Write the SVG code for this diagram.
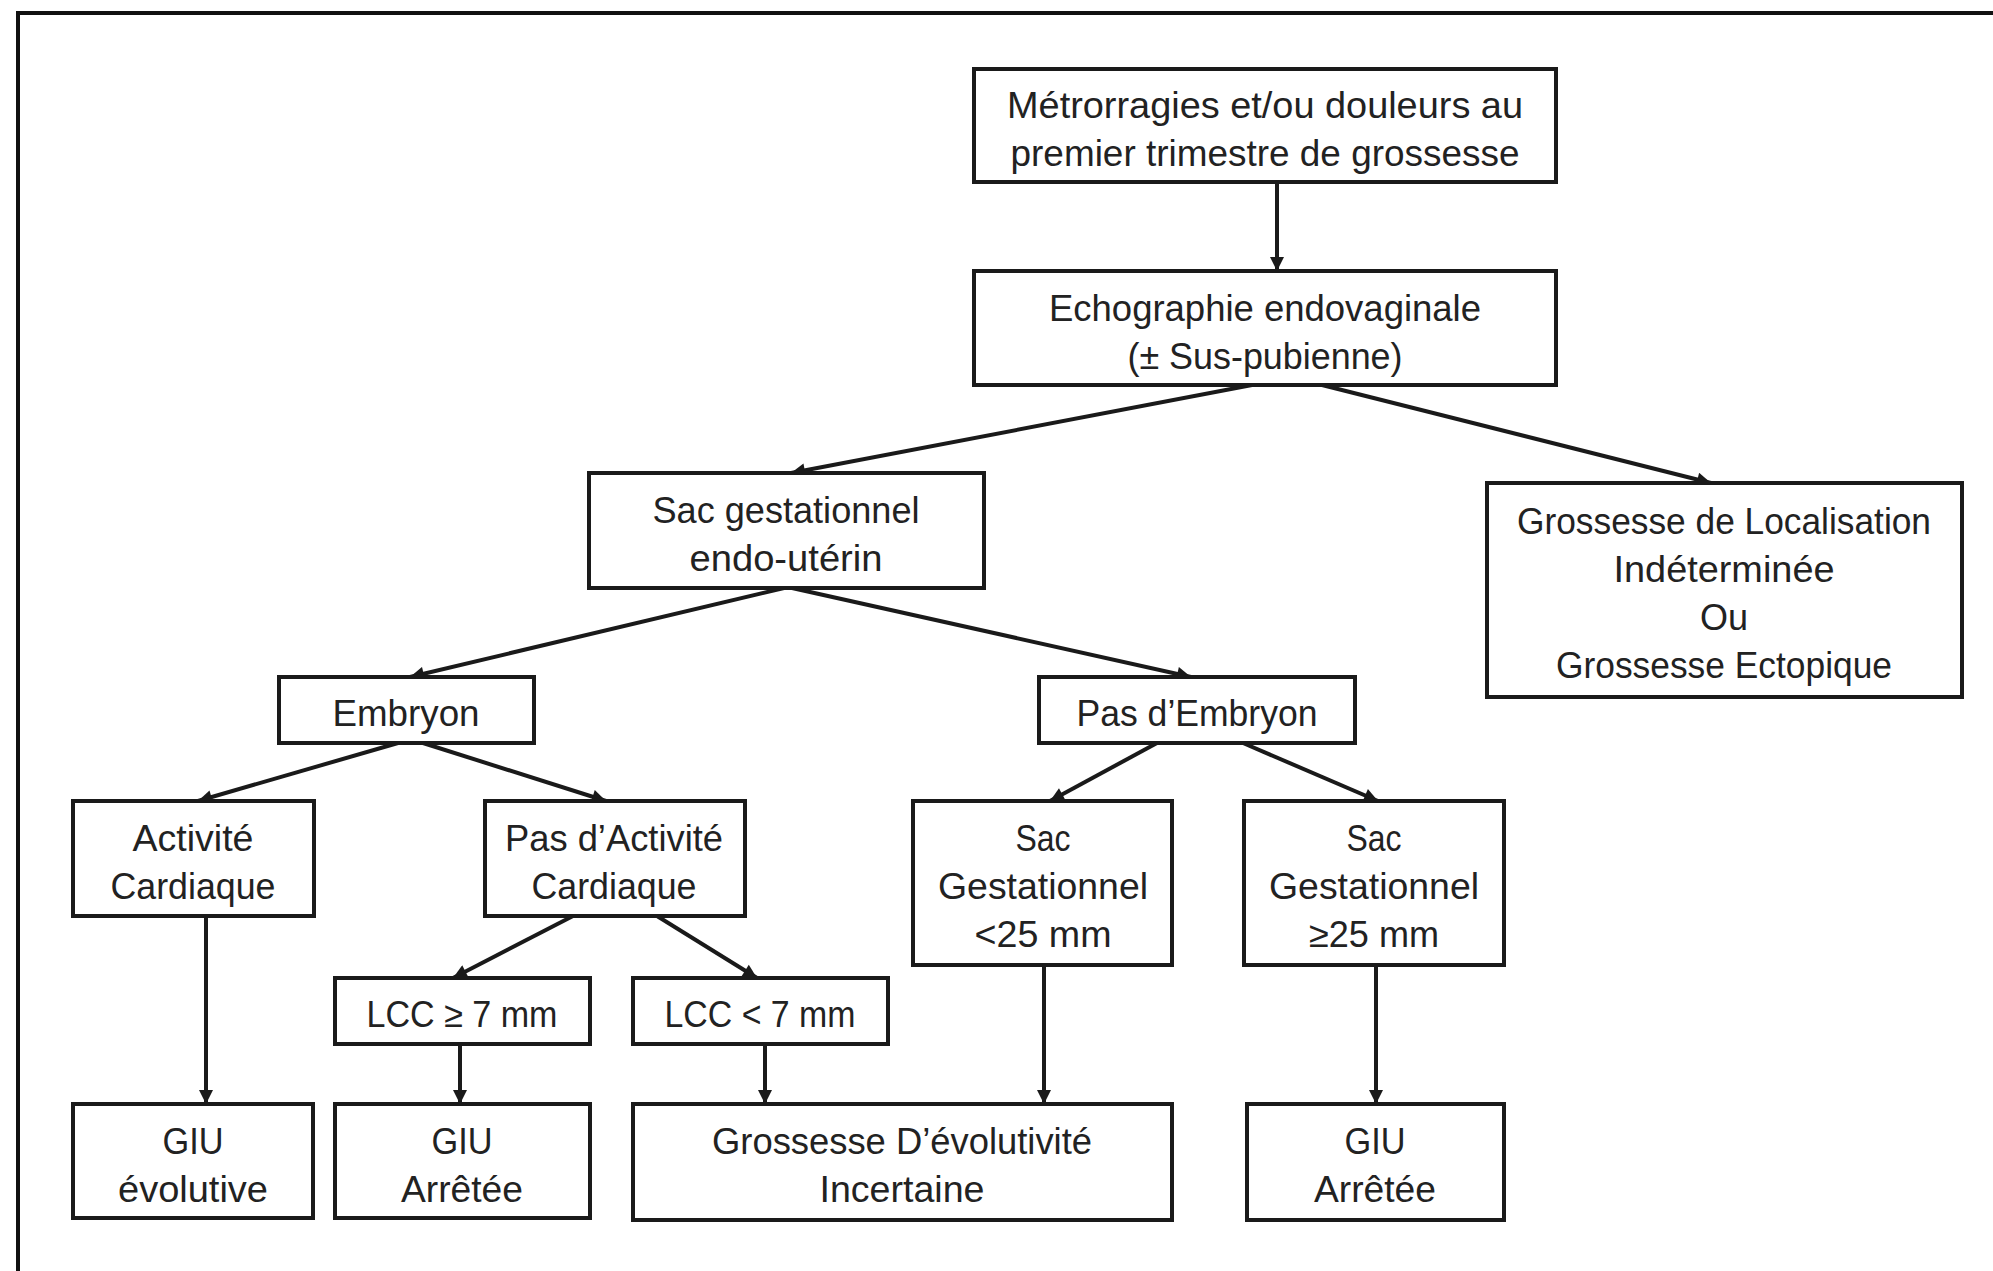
<svg xmlns="http://www.w3.org/2000/svg" width="1993" height="1271" viewBox="0 0 1993 1271">
<style>
.box{fill:#fff;stroke:#1a1a1a;stroke-width:4}
.t{font-family:"Liberation Sans",Arial,sans-serif;font-size:36px;fill:#222;text-anchor:middle}
.e{stroke:#1a1a1a;stroke-width:4;fill:none;marker-end:url(#ah)}
.frame{stroke:#111;stroke-width:4;fill:none}
</style>
<defs>
<marker id="ah" viewBox="0 0 10 10" refX="10" refY="5" markerUnits="userSpaceOnUse" markerWidth="16" markerHeight="14" orient="auto">
<path d="M0,0 L10,5 L0,10 z" fill="#1a1a1a"/>
</marker>
</defs>
<rect width="1993" height="1271" fill="#fff"/>
<path class="frame" d="M18,1271 L18,13 L1993,13"/>
<g id="connectors">
<line class="e" x1="1277" y1="182" x2="1277" y2="271"/>
<line class="e" x1="1252" y1="385" x2="791" y2="473"/>
<line class="e" x1="1322" y1="385" x2="1711" y2="483"/>
<line class="e" x1="784" y1="588" x2="410" y2="677"/>
<line class="e" x1="792" y1="588" x2="1191" y2="677"/>
<line class="e" x1="398" y1="743" x2="198" y2="801"/>
<line class="e" x1="423" y1="743" x2="606" y2="801"/>
<line class="e" x1="1157" y1="743" x2="1050" y2="801"/>
<line class="e" x1="1243" y1="743" x2="1378" y2="801"/>
<line class="e" x1="206" y1="916" x2="206" y2="1104"/>
<line class="e" x1="573" y1="916" x2="453" y2="978"/>
<line class="e" x1="657" y1="916" x2="757" y2="978"/>
<line class="e" x1="460" y1="1044" x2="460" y2="1104"/>
<line class="e" x1="765" y1="1044" x2="765" y2="1104"/>
<line class="e" x1="1044" y1="965" x2="1044" y2="1104"/>
<line class="e" x1="1376" y1="965" x2="1376" y2="1104"/>
</g>
<g id="n1"><rect class="box" x="974" y="69" width="582" height="113"/>
<text class="t" x="1265" y="118" textLength="516" lengthAdjust="spacingAndGlyphs">Métrorragies et/ou douleurs au</text>
<text class="t" x="1265" y="166" textLength="509" lengthAdjust="spacingAndGlyphs">premier trimestre de grossesse</text></g>
<g id="n2"><rect class="box" x="974" y="271" width="582" height="114"/>
<text class="t" x="1265" y="321" textLength="432" lengthAdjust="spacingAndGlyphs">Echographie endovaginale</text>
<text class="t" x="1265" y="369" textLength="275" lengthAdjust="spacingAndGlyphs">(± Sus-pubienne)</text></g>
<g id="n3"><rect class="box" x="589" y="473" width="395" height="115"/>
<text class="t" x="786" y="523" textLength="267" lengthAdjust="spacingAndGlyphs">Sac gestationnel</text>
<text class="t" x="786" y="571" textLength="193" lengthAdjust="spacingAndGlyphs">endo-utérin</text></g>
<g id="n4"><rect class="box" x="1487" y="483" width="475" height="214"/>
<text class="t" x="1724" y="534" textLength="414" lengthAdjust="spacingAndGlyphs">Grossesse de Localisation</text>
<text class="t" x="1724" y="582" textLength="221" lengthAdjust="spacingAndGlyphs">Indéterminée</text>
<text class="t" x="1724" y="630">Ou</text>
<text class="t" x="1724" y="678" textLength="336" lengthAdjust="spacingAndGlyphs">Grossesse Ectopique</text></g>
<g id="n5"><rect class="box" x="279" y="677" width="255" height="66"/>
<text class="t" x="406" y="726" textLength="147" lengthAdjust="spacingAndGlyphs">Embryon</text></g>
<g id="n6"><rect class="box" x="1039" y="677" width="316" height="66"/>
<text class="t" x="1197" y="726" textLength="241" lengthAdjust="spacingAndGlyphs">Pas d’Embryon</text></g>
<g id="n7"><rect class="box" x="73" y="801" width="241" height="115"/>
<text class="t" x="193" y="851" textLength="121" lengthAdjust="spacingAndGlyphs">Activité</text>
<text class="t" x="193" y="899" textLength="165" lengthAdjust="spacingAndGlyphs">Cardiaque</text></g>
<g id="n8"><rect class="box" x="485" y="801" width="260" height="115"/>
<text class="t" x="614" y="851" textLength="218" lengthAdjust="spacingAndGlyphs">Pas d’Activité</text>
<text class="t" x="614" y="899" textLength="165" lengthAdjust="spacingAndGlyphs">Cardiaque</text></g>
<g id="n9"><rect class="box" x="913" y="801" width="259" height="164"/>
<text class="t" x="1043" y="851" textLength="55" lengthAdjust="spacingAndGlyphs">Sac</text>
<text class="t" x="1043" y="899" textLength="210" lengthAdjust="spacingAndGlyphs">Gestationnel</text>
<text class="t" x="1043" y="947" textLength="137" lengthAdjust="spacingAndGlyphs">&lt;25 mm</text></g>
<g id="n10"><rect class="box" x="1244" y="801" width="260" height="164"/>
<text class="t" x="1374" y="851" textLength="55" lengthAdjust="spacingAndGlyphs">Sac</text>
<text class="t" x="1374" y="899" textLength="210" lengthAdjust="spacingAndGlyphs">Gestationnel</text>
<text class="t" x="1374" y="947" textLength="130" lengthAdjust="spacingAndGlyphs">≥25 mm</text></g>
<g id="n11"><rect class="box" x="335" y="978" width="255" height="66"/>
<text class="t" x="462" y="1027" textLength="191" lengthAdjust="spacingAndGlyphs">LCC ≥ 7 mm</text></g>
<g id="n12"><rect class="box" x="633" y="978" width="255" height="66"/>
<text class="t" x="760" y="1027" textLength="191" lengthAdjust="spacingAndGlyphs">LCC &lt; 7 mm</text></g>
<g id="n13"><rect class="box" x="73" y="1104" width="240" height="114"/>
<text class="t" x="193" y="1154" textLength="61" lengthAdjust="spacingAndGlyphs">GIU</text>
<text class="t" x="193" y="1202" textLength="150" lengthAdjust="spacingAndGlyphs">évolutive</text></g>
<g id="n14"><rect class="box" x="335" y="1104" width="255" height="114"/>
<text class="t" x="462" y="1154" textLength="61" lengthAdjust="spacingAndGlyphs">GIU</text>
<text class="t" x="462" y="1202" textLength="122" lengthAdjust="spacingAndGlyphs">Arrêtée</text></g>
<g id="n15"><rect class="box" x="633" y="1104" width="539" height="116"/>
<text class="t" x="902" y="1154" textLength="380" lengthAdjust="spacingAndGlyphs">Grossesse D’évolutivité</text>
<text class="t" x="902" y="1202" textLength="165" lengthAdjust="spacingAndGlyphs">Incertaine</text></g>
<g id="n16"><rect class="box" x="1247" y="1104" width="257" height="116"/>
<text class="t" x="1375" y="1154" textLength="61" lengthAdjust="spacingAndGlyphs">GIU</text>
<text class="t" x="1375" y="1202" textLength="122" lengthAdjust="spacingAndGlyphs">Arrêtée</text></g>
</svg>
